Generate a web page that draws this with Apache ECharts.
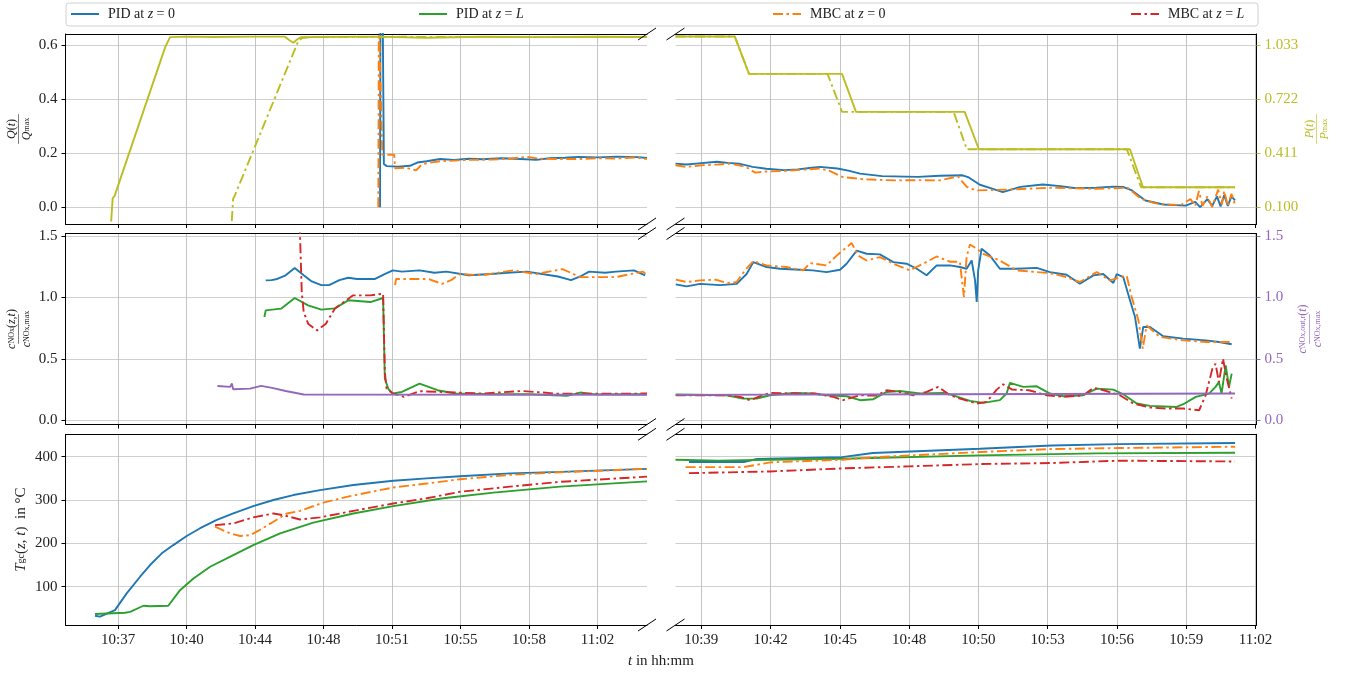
<!DOCTYPE html>
<html>
<head>
<meta charset="utf-8">
<script src="https://cdn.jsdelivr.net/npm/echarts@6/dist/echarts.min.js"></script>
<style>
  html, body { margin: 0; padding: 0; background: #fff; }
  #chart { width: 1346px; height: 673px; }
</style>
</head>
<body>
<div id="chart"></div>
<script>
// x ticks (minutes after 10:00) and their labels
const leftTickLabels = ['10:37', '10:40', '10:44', '10:48', '10:51', '10:55', '10:58', '11:02'];
const rightTickLabels = ['10:39', '10:42', '10:45', '10:48', '10:50', '10:53', '10:56', '10:59', '11:02'];
const leftTickStart = 37, leftTickStep = 25 / 7;
const rightTickStart = 38.9, rightTickStep = 2.875;
const leftTicks = leftTickLabels.map((_, i) => leftTickStart + i * leftTickStep);
const rightTicks = rightTickLabels.map((_, i) => rightTickStart + i * rightTickStep);

const qTicks = [0, 0.2, 0.4, 0.6];
const pTicks = [0.1, 0.411, 0.722, 1.033];
const cTicks = [0, 0.5, 1.0, 1.5];
const tempTicks = [100, 200, 300, 400];

// top row: Q/Qmax (PID, MBC) and P/Pmax
const qPid0Left = [[50.66, 0], [50.68, 0.70], [50.80, 0.70], [50.86, 0.160], [51.0, 0.152], [51.6, 0.150], [52.22, 0.153],
  [52.6, 0.165], [53.09, 0.170], [53.79, 0.178], [54.5, 0.175], [55.3, 0.179], [56.0, 0.177], [57.0, 0.181], [58.0, 0.178],
  [58.8, 0.175], [59.5, 0.181], [60.3, 0.183], [61.0, 0.186], [62.0, 0.184], [63.0, 0.187], [64.1, 0.185], [64.58, 0.182]];
const qMbc0Left = [[50.57, 0], [50.60, 0.70], [50.70, 0.70], [50.78, 0.194], [51.40, 0.194], [51.44, 0.144], [52.0, 0.146],
  [52.54, 0.136], [52.8, 0.155], [53.09, 0.163], [53.79, 0.170], [54.5, 0.172], [55.3, 0.175], [56.5, 0.176], [57.5, 0.180],
  [58.3, 0.186], [59.0, 0.179], [60.0, 0.178], [61.0, 0.178], [62.0, 0.181], [63.0, 0.180], [64.0, 0.184], [64.58, 0.178]];
const pPidLeft = [[36.64, 0.018], [36.72, 0.151], [36.82, 0.165], [39.45, 1.017], [39.71, 1.077], [40.5, 1.080], [42.0, 1.078],
  [44.0, 1.080], [45.7, 1.080], [45.9, 1.062], [46.14, 1.045], [46.35, 1.065], [46.55, 1.077], [47.5, 1.078], [50.5, 1.080],
  [53.0, 1.074], [56.0, 1.079], [59.0, 1.077], [62.0, 1.079], [64.58, 1.078]];
const pMbcLeft = [[42.93, 0.021], [43.00, 0.148], [43.06, 0.160], [46.40, 1.055], [46.6, 1.072], [47.2, 1.078], [52.0, 1.079],
  [58.0, 1.077], [64.58, 1.078]];

const qPid0Right = [[37.83, 0.161], [38.29, 0.158], [38.8, 0.162], [39.55, 0.168], [40.0, 0.164], [40.46, 0.161], [41.03, 0.149],
  [41.6, 0.142], [42.33, 0.137], [42.9, 0.140], [43.4, 0.145], [43.81, 0.149], [44.55, 0.143], [45.0, 0.135], [45.49, 0.124],
  [46.40, 0.115], [47.89, 0.112], [48.8, 0.116], [49.74, 0.118], [50.0, 0.110], [50.46, 0.083], [51.0, 0.068], [51.41, 0.056],
  [52.14, 0.075], [53.07, 0.084], [53.8, 0.078], [54.37, 0.071], [55.29, 0.072], [56.0, 0.076], [56.40, 0.075], [56.77, 0.062],
  [57.33, 0.025], [58.07, 0.010], [59.0, 0.006], [59.4, 0.020], [59.6, 0.000], [59.9, 0.030], [60.1, 0.005], [60.3, 0.040],
  [60.45, 0.003], [60.6, 0.045], [60.75, 0.005], [60.9, 0.040], [61.05, 0.025]];
const qMbc0Right = [[37.83, 0.155], [38.29, 0.149], [38.9, 0.155], [39.6, 0.158], [40.09, 0.161], [40.75, 0.149], [41.13, 0.128],
  [41.6, 0.132], [42.33, 0.134], [43.0, 0.138], [43.81, 0.143], [44.2, 0.135], [44.74, 0.112], [45.65, 0.103], [46.96, 0.099],
  [48.0, 0.100], [48.80, 0.099], [49.55, 0.114], [49.92, 0.075], [50.30, 0.062], [51.58, 0.065], [53.45, 0.072], [55.3, 0.068],
  [56.59, 0.072], [57.15, 0.031], [57.7, 0.015], [58.3, 0.010], [58.8, 0.008], [59.2, 0.030], [59.4, 0.005], [59.55, 0.060],
  [59.7, 0.005], [59.9, 0.040], [60.1, 0.000], [60.35, 0.065], [60.5, 0.010], [60.6, 0.060], [60.75, 0.005], [60.9, 0.050], [61.05, 0.010]];
const pPidRight = [[37.83, 1.081], [40.29, 1.081], [40.88, 0.866], [44.74, 0.866], [45.32, 0.648], [49.83, 0.648], [50.42, 0.433],
  [56.69, 0.433], [57.23, 0.215], [61.05, 0.215]];
const pMbcRight = [[37.83, 1.081], [40.29, 1.081], [40.88, 0.866], [44.14, 0.866], [44.74, 0.648], [49.37, 0.648], [49.92, 0.433],
  [56.56, 0.433], [57.15, 0.215], [61.05, 0.215]];

// middle row: c_NOx/c_NOx,max
const cPid0Left = [[44.70, 1.138], [45.0, 1.140], [45.3, 1.150], [45.74, 1.180], [46.21, 1.240], [46.68, 1.180], [47.1, 1.130],
  [47.60, 1.100], [48.0, 1.100], [48.54, 1.140], [49.0, 1.160], [49.46, 1.150], [50.40, 1.150], [50.9, 1.190], [51.33, 1.220],
  [51.8, 1.210], [52.72, 1.220], [53.5, 1.200], [54.12, 1.210], [55.29, 1.180], [56.45, 1.190], [57.3, 1.200], [58.31, 1.210],
  [59.94, 1.170], [60.62, 1.140], [61.1, 1.170], [61.56, 1.210], [62.4, 1.200], [62.96, 1.210], [63.90, 1.220], [64.48, 1.180]];
const cMbc0Left = [[51.44, 1.100], [51.5, 1.150], [53.19, 1.150], [53.89, 1.110], [54.36, 1.140], [54.83, 1.190], [55.98, 1.180],
  [57.59, 1.220], [58.78, 1.190], [60.18, 1.230], [61.09, 1.165], [62.96, 1.165], [64.37, 1.210], [64.58, 1.180]];
const cPidLLeft = [[44.63, 0.840], [44.70, 0.894], [45.50, 0.908], [46.21, 0.995], [46.91, 0.935], [47.60, 0.900], [48.30, 0.910],
  [49.00, 0.976], [50.16, 0.962], [50.82, 0.995], [50.91, 0.339], [51.10, 0.252], [51.33, 0.217], [51.80, 0.230], [52.72, 0.298],
  [53.66, 0.244], [54.59, 0.217], [56.5, 0.211], [58.5, 0.211], [60.41, 0.198], [61.09, 0.225], [61.9, 0.210], [64.58, 0.211]];
const cMbcLLeft = [[46.47, 1.600], [46.58, 1.040], [46.68, 0.880], [46.91, 0.786], [47.38, 0.730], [47.84, 0.786], [48.30, 0.908],
  [49.24, 1.016], [50.16, 1.016], [50.82, 1.030], [50.91, 0.393], [51.0, 0.257], [51.33, 0.217], [51.91, 0.190], [52.72, 0.236],
  [53.89, 0.230], [55.98, 0.217], [58.06, 0.238], [60.0, 0.215], [64.58, 0.217]];
const cOutLeft = [[42.18, 0.279], [42.84, 0.271], [42.94, 0.298], [43.0, 0.252], [43.88, 0.257], [44.46, 0.279], [45.03, 0.263],
  [45.74, 0.238], [46.68, 0.209], [64.58, 0.207]];

const cPid0Right = [[37.84, 1.106], [38.29, 1.090], [38.85, 1.110], [39.68, 1.100], [40.37, 1.110], [40.78, 1.190], [41.06, 1.287],
  [41.61, 1.247], [42.17, 1.233], [43.00, 1.225], [43.53, 1.220], [44.10, 1.206], [44.66, 1.225], [44.93, 1.274], [45.35, 1.380],
  [45.76, 1.355], [46.31, 1.350], [46.87, 1.287], [47.42, 1.274], [47.84, 1.233], [48.25, 1.180], [48.67, 1.260], [49.22, 1.260],
  [49.63, 1.247], [49.91, 1.233], [50.12, 1.300], [50.26, 1.138], [50.33, 0.962], [50.39, 1.220], [50.53, 1.396], [50.88, 1.340],
  [51.29, 1.233], [51.99, 1.233], [52.82, 1.240], [53.37, 1.206], [54.06, 1.184], [54.61, 1.111], [55.17, 1.179], [55.58, 1.190],
  [56.00, 1.117], [56.14, 1.190], [56.41, 1.165], [56.69, 0.976], [56.90, 0.840], [57.10, 0.583], [57.24, 0.759], [57.52, 0.759],
  [58.07, 0.683], [58.90, 0.664], [59.83, 0.650], [60.38, 0.637], [60.91, 0.618]];
const cMbc0Right = [[37.84, 1.144], [38.29, 1.125], [38.85, 1.138], [39.5, 1.144], [39.95, 1.117], [40.37, 1.125], [40.71, 1.220],
  [41.06, 1.295], [41.61, 1.260], [42.44, 1.247], [43.13, 1.220], [43.41, 1.279], [44.10, 1.260], [44.52, 1.340], [45.14, 1.442],
  [45.41, 1.340], [45.76, 1.300], [46.31, 1.328], [46.87, 1.274], [47.56, 1.220], [48.11, 1.274], [48.67, 1.333], [49.22, 1.290],
  [49.63, 1.290], [49.80, 1.003], [49.91, 1.328], [50.05, 1.431], [50.33, 1.396], [50.60, 1.355], [51.29, 1.300], [51.99, 1.220],
  [52.82, 1.206], [53.37, 1.198], [54.06, 1.165], [54.61, 1.125], [55.31, 1.206], [55.86, 1.138], [56.55, 1.179], [56.76, 1.003],
  [57.04, 0.813], [57.22, 0.583], [57.38, 0.772], [57.93, 0.678], [58.90, 0.650], [59.83, 0.637], [60.91, 0.637]];
const cPidLRight = [[37.84, 0.209], [39.95, 0.203], [40.63, 0.176], [41.20, 0.176], [41.75, 0.203], [42.72, 0.222], [43.53, 0.217],
  [44.10, 0.203], [44.93, 0.195], [45.49, 0.163], [46.04, 0.171], [46.59, 0.230], [47.14, 0.238], [47.97, 0.217], [48.94, 0.222],
  [49.22, 0.211], [50.05, 0.157], [50.60, 0.141], [51.29, 0.163], [51.57, 0.217], [51.71, 0.304], [52.26, 0.271], [52.82, 0.276],
  [53.37, 0.217], [53.92, 0.195], [54.75, 0.203], [55.31, 0.257], [56.00, 0.249], [56.41, 0.211], [56.97, 0.136], [57.52, 0.117],
  [58.63, 0.108], [58.90, 0.130], [59.42, 0.190], [59.97, 0.217], [60.24, 0.271], [60.38, 0.310], [60.49, 0.217], [60.66, 0.447],
  [60.80, 0.271], [60.91, 0.379]];
const cMbcLRight = [[37.84, 0.203], [39.95, 0.203], [40.51, 0.190], [40.92, 0.163], [41.4, 0.200], [41.75, 0.222], [42.72, 0.217],
  [43.6, 0.217], [44.38, 0.190], [44.79, 0.163], [45.49, 0.203], [46.18, 0.200], [46.59, 0.244], [47.14, 0.230], [47.70, 0.203],
  [48.25, 0.230], [48.73, 0.271], [49.22, 0.203], [49.63, 0.176], [50.33, 0.136], [50.74, 0.149], [51.16, 0.249], [51.43, 0.293],
  [51.8, 0.249], [52.5, 0.244], [53.23, 0.203], [53.9, 0.190], [54.75, 0.203], [55.17, 0.263], [55.6, 0.244], [56.27, 0.203],
  [56.83, 0.136], [57.52, 0.103], [58.21, 0.095], [58.90, 0.095], [59.56, 0.081], [59.83, 0.203], [60.11, 0.420], [60.24, 0.460],
  [60.38, 0.310], [60.55, 0.501], [60.69, 0.352], [60.91, 0.176]];
const cOutRight = [[37.84, 0.206], [49.0, 0.211], [61.05, 0.217]];

// bottom row: T_gc in degC
const tPid0Left = [[35.80, 33], [36.06, 30.8], [36.84, 46], [37.45, 84.6], [38.15, 123], [38.67, 150], [39.28, 177], [39.88, 196],
  [40.58, 217], [41.28, 235], [42.15, 254], [43.01, 269], [44.05, 286], [45.10, 300], [46.14, 311.5], [47.53, 323], [49.27, 334.6],
  [51.35, 344.6], [53.09, 350], [54.83, 355], [57.44, 361.5], [60.05, 365], [64.58, 372]];
const tPidLLeft = [[35.80, 37], [37.36, 40], [37.63, 42], [38.32, 56], [38.67, 55], [39.62, 56], [40.23, 92], [40.93, 119],
  [41.80, 146], [43.01, 173], [44.05, 196], [45.45, 223], [47.18, 248], [49.27, 269], [51.35, 286], [53.96, 304], [56.57, 317],
  [60.05, 331], [64.58, 343]];
const tMbc0Left = [[42.06, 238.5], [42.15, 236], [42.84, 223], [43.36, 217], [43.88, 219], [44.40, 231], [45.10, 250], [45.80, 269],
  [46.49, 275], [47.70, 294], [49.10, 309], [51.35, 329], [53.09, 338], [54.83, 348], [57.44, 358], [60.05, 364], [64.58, 372]];
const tMbcLLeft = [[42.06, 242], [43.01, 246], [44.05, 260], [45.10, 269], [45.62, 265], [46.49, 255], [47.53, 260], [49.27, 275],
  [51.35, 292], [53.09, 304], [54.83, 319], [57.44, 331], [60.05, 342], [64.58, 354]];

const tPid0Right = [[38.39, 387.7], [40.66, 387.7], [41.21, 394.6], [44.74, 399], [46.02, 408.5], [50.46, 418.5], [53.44, 426],
  [56.22, 429], [61.05, 431.5]];
const tPidLRight = [[37.83, 393], [39.6, 391], [41.77, 393], [44.74, 395.4], [50.46, 403], [55.3, 407.7], [61.05, 409]];
const tMbc0Right = [[38.25, 376], [40.66, 376], [41.77, 387], [44.74, 393], [46.02, 398.5], [50.46, 410.8], [53.44, 417.7],
  [56.22, 420], [61.05, 423]];
const tMbcLRight = [[38.39, 362], [41.77, 366], [44.74, 373], [47.52, 377.7], [50.46, 383], [53.44, 385.4], [56.22, 390.8],
  [61.05, 389]];

// ---------- layout ----------
const C = { blue: '#1f77b4', orange: '#ff7f0e', green: '#2ca02c', red: '#d62728', purple: '#9467bd', olive: '#bcbd22' };
const SERIF = 'Liberation Serif';
const dashDot = [10, 3.5, 2.5, 3.5];
const cols = [{ left: 65.5, width: 581.5, min: 34.26, max: 64.58, ticks: leftTicks, labels: leftTickLabels },
              { left: 675.5, width: 581, min: 37.83, max: 61.94, ticks: rightTicks, labels: rightTickLabels }];
const rows = [{ top: 34, height: 190 }, { top: 233.5, height: 191 }, { top: 434.3, height: 190.7 }];
const yRange = [{ min: -0.062, max: 0.640 }, { min: -0.035, max: 1.52 }, { min: 11.6, max: 451.7 }];
const pRange = { min: 0.1 - 0.062 * 1.555, max: 0.1 + 0.640 * 1.555 };

const grids = [], xAxes = [], topAxes = [];
rows.forEach((r, ri) => cols.forEach((c, ci) => {
  const gi = grids.length;
  grids.push({ left: c.left, width: c.width, top: r.top, height: r.height, containLabel: false });
  xAxes.push({
    type: 'value', gridIndex: gi, min: c.min, max: c.max, position: 'bottom',
    axisLine: { show: true, onZero: false, lineStyle: { color: '#000', width: 1 } },
    axisTick: { show: true, length: 4, customValues: c.ticks, lineStyle: { color: '#000' } },
    axisLabel: {
      show: ri === 2, customValues: c.ticks, fontFamily: SERIF, fontSize: 15, color: '#222', margin: 8,
      formatter: v => c.labels[Math.round((v - c.ticks[0]) / (c.ticks[1] - c.ticks[0]))]
    },
    splitLine: { show: true, lineStyle: { color: '#bdbdbd', width: 0.9 } }
  });
  topAxes.push({
    type: 'value', gridIndex: gi, min: c.min, max: c.max, position: 'top',
    axisLine: { show: true, onZero: false, lineStyle: { color: '#000', width: 1 } },
    axisTick: { show: false }, axisLabel: { show: false }, splitLine: { show: false }
  });
}));

function fracName(num, den, color) {
  const st = (sz) => ({ fontFamily: SERIF, fontSize: sz, color, lineHeight: 12 });
  return {
    name: num + '\n{b|───────}\n' + den,
    nameTextStyle: {
      color, fontFamily: SERIF, fontSize: 12, lineHeight: 12, align: 'center',
      rich: {
        n: st(12), ni: Object.assign(st(12), { fontStyle: 'italic' }), ns: st(8),
        b: { fontFamily: 'DejaVu Sans', fontSize: 7, lineHeight: 3, color }
      }
    }
  };
}

function yMain(gi, range, ticks, showLabels, fmt, extra) {
  return Object.assign({
    type: 'value', gridIndex: gi, position: 'left', min: range.min, max: range.max,
    axisLine: { show: showLabels, onZero: false, lineStyle: { color: '#000' } },
    axisTick: { show: showLabels, length: 4, customValues: ticks, lineStyle: { color: '#000' } },
    axisLabel: { show: showLabels, customValues: ticks, fontFamily: SERIF, fontSize: 15, color: '#222', margin: 8, formatter: fmt },
    splitLine: { show: true, lineStyle: { color: '#cfcfcf', width: 1.2 } }
  }, extra || {});
}
function yTwin(gi, range, ticks, show, color, fmt, extra) {
  return Object.assign({
    type: 'value', gridIndex: gi, position: 'right', min: range.min, max: range.max,
    axisLine: { show: show, onZero: false, lineStyle: { color: '#000' } },
    axisTick: { show: show && !!ticks, length: 4, customValues: ticks || [], lineStyle: { color: color } },
    axisLabel: { show: show && !!ticks, customValues: ticks || [], fontFamily: SERIF, fontSize: 15, color: color, margin: 8, formatter: fmt },
    splitLine: { show: false }
  }, extra || {});
}

const f1 = v => v.toFixed(1);
const f3 = v => v.toFixed(3);
const f0 = v => String(Math.round(v));

const qName = fracName('{ni|Q}({ni|t})', '{ni|Q}{ns|max}', '#222');
const cName = fracName('{ni|c}{ns|NOx}({ni|z},{ni|t})', '{ni|c}{ns|NOx,max}', '#222');
const pName = fracName('{ni|P}({ni|t})', '{ni|P}{ns|max}', C.olive);
const oName = fracName('{ni|c}{ns|NOx,out,r}({ni|t})', '{ni|c}{ns|NOx,max}', C.purple);

const yAxes = [
  // 0,1 : top-left
  yMain(0, yRange[0], qTicks, true, f1, Object.assign({ nameLocation: 'middle', nameRotate: 90, nameGap: 33 }, qName)),
  yTwin(0, pRange, null, false, C.olive),
  // 2,3 : top-right
  yMain(1, yRange[0], qTicks, false, f1),
  yTwin(1, pRange, pTicks, true, C.olive, f3, Object.assign({ nameLocation: 'middle', nameRotate: 90, nameGap: 47 }, pName)),
  // 4,5 : mid-left
  yMain(2, yRange[1], cTicks, true, f1, Object.assign({ nameLocation: 'middle', nameRotate: 90, nameGap: 33 }, cName)),
  yTwin(2, yRange[1], null, false, C.purple),
  // 6,7 : mid-right
  yMain(3, yRange[1], cTicks, false, f1),
  yTwin(3, yRange[1], cTicks, true, C.purple, f1, Object.assign({ nameLocation: 'middle', nameRotate: 90, nameGap: 40 }, oName)),
  // 8 : bottom-left
  yMain(4, yRange[2], tempTicks, true, f0, {
    name: '{i|T}{s|gc}({i|z}, {i|t})  in °C', nameLocation: 'middle', nameRotate: 90, nameGap: 37,
    nameTextStyle: { fontFamily: SERIF, fontSize: 15, color: '#222', rich: { i: { fontFamily: SERIF, fontStyle: 'italic', fontSize: 15, color: '#222' }, s: { fontFamily: SERIF, fontSize: 10, color: '#222' } } }
  }),
  // 9,10 : bottom-right
  yMain(5, yRange[2], tempTicks, false, f0),
  yTwin(5, yRange[2], null, true, '#000')
];

const L0 = 'PID at z = 0', LL = 'PID at z = L', M0 = 'MBC at z = 0', ML = 'MBC at z = L';
function line(name, data, xi, yi, color, dashed, z) {
  return {
    type: 'line', name, data, xAxisIndex: xi, yAxisIndex: yi, symbol: 'none', showSymbol: false,
    animation: false, silent: true, clip: true, z: z || 2,
    lineStyle: { color, width: 1.9, type: dashed ? dashDot : 'solid' },
    itemStyle: { color }
  };
}

const series = [
  // top-left
  line(L0, qPid0Left, 0, 0, C.blue), line(M0, qMbc0Left, 0, 0, C.orange, true),
  line('P PID', pPidLeft, 0, 1, C.olive, false, 3), line('P MBC', pMbcLeft, 0, 1, C.olive, true, 3),
  // top-right
  line(L0, qPid0Right, 1, 2, C.blue), line(M0, qMbc0Right, 1, 2, C.orange, true),
  line('P PID', pPidRight, 1, 3, C.olive, false, 3), line('P MBC', pMbcRight, 1, 3, C.olive, true, 3),
  // mid-left
  line(L0, cPid0Left, 2, 4, C.blue), line(LL, cPidLLeft, 2, 4, C.green),
  line(M0, cMbc0Left, 2, 4, C.orange, true), line(ML, cMbcLLeft, 2, 4, C.red, true),
  line('c out', cOutLeft, 2, 5, C.purple, false, 3),
  // mid-right
  line(L0, cPid0Right, 3, 6, C.blue), line(LL, cPidLRight, 3, 6, C.green),
  line(M0, cMbc0Right, 3, 6, C.orange, true), line(ML, cMbcLRight, 3, 6, C.red, true),
  line('c out', cOutRight, 3, 7, C.purple, false, 3),
  // bottom-left
  line(L0, tPid0Left, 4, 8, C.blue), line(LL, tPidLLeft, 4, 8, C.green),
  line(M0, tMbc0Left, 4, 8, C.orange, true), line(ML, tMbcLLeft, 4, 8, C.red, true),
  // bottom-right
  line(L0, tPid0Right, 5, 9, C.blue), line(LL, tPidLRight, 5, 9, C.green),
  line(M0, tMbc0Right, 5, 9, C.orange, true), line(ML, tMbcLRight, 5, 9, C.red, true)
];

const legendNames = [L0, LL, M0, ML];
const legendLeft = [70, 418, 772, 1130];
const legends = legendNames.map((n, k) => ({
  show: true, type: 'plain', orient: 'horizontal',
  data: [n], left: legendLeft[k], top: 7, right: 'auto', bottom: 'auto',
  itemWidth: 28, itemHeight: 12, itemGap: 0, padding: 0,
  selectedMode: false,
  itemStyle: { opacity: 0 },
  lineStyle: { width: 2 },
  textStyle: { fontFamily: SERIF, fontSize: 14, color: '#222', padding: [0, 0, 0, 4], rich: { i: { fontFamily: SERIF, fontStyle: 'italic', fontSize: 14, color: '#222' } } },
  formatter: name => name.replace(/ (z|L)(?= |$)/g, ' {i|$1}')
}));

// break marks of the split x axis
const breakMarks = [];
rows.forEach(r => {
  [r.top, r.top + r.height].forEach(y => {
    [cols[0].left + cols[0].width, cols[1].left].forEach(x => {
      breakMarks.push({ type: 'line', shape: { x1: x - 9, y1: y + 6, x2: x + 9, y2: y - 6 }, style: { stroke: '#000', lineWidth: 1 }, z: 100 });
    });
  });
});

const option = {
  backgroundColor: '#fff',
  animation: false,
  title: {
    text: '{i|t} in hh:mm', left: 623, top: 649,
    textStyle: { fontFamily: SERIF, fontSize: 15, fontWeight: 'normal', color: '#222', rich: { i: { fontFamily: SERIF, fontStyle: 'italic', fontSize: 15, color: '#222' } } }
  },
  legend: legends,
  grid: grids,
  xAxis: xAxes.concat(topAxes),
  yAxis: yAxes,
  series: series,
  graphic: [
    { type: 'rect', shape: { x: 66, y: 3, width: 1192, height: 23, r: 3 }, style: { fill: 'rgba(255,255,255,0.8)', stroke: '#d0d0d0', lineWidth: 1 }, z: -1 }
  ].concat(breakMarks)
};

const chart = echarts.init(document.getElementById('chart'), null, { renderer: 'canvas' });
chart.setOption(option);
</script>
</body>
</html>
